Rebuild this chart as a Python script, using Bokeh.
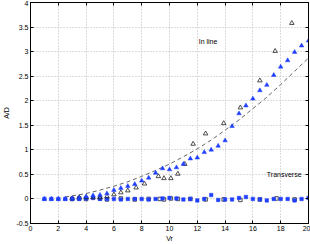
from bokeh.plotting import figure
from bokeh.models import LinearAxis, FixedTicker, Range1d
from bokeh.core.properties import value
from bokeh.embed import file_html
from bokeh.resources import INLINE

# ---- data ----
x_inline_blue = [1, 1.5, 2, 2.5, 3, 3.5, 4, 4.5, 5, 5.5, 6, 6.5, 7, 7.5, 8, 8.5, 9, 9.5, 10, 10.5,
                 11, 11.5, 12, 12.5, 13, 13.5, 14, 14.5, 15, 15.5, 16, 16.5, 17, 17.5, 18, 18.5, 19, 19.5, 20]
y_inline_blue = [0, 0, 0, 0, 0.01, 0.02, 0.05, 0.07, 0.08, 0.11, 0.18, 0.22, 0.26, 0.30, 0.37, 0.43, 0.53, 0.62,
                 0.60, 0.64, 0.71, 0.82, 0.84, 0.95, 1.0, 1.08, 1.19, 1.48, 1.74, 1.90, 2.04, 2.21, 2.32, 2.52,
                 2.69, 2.82, 2.99, 3.12, 3.22]

x_inline_open = [3, 3.5, 4, 4.5, 5, 5.5, 6, 6.5, 7, 7.6, 8.2, 9.2, 9.6, 10.1, 10.6, 11.1, 11.7, 12.6, 13.9,
                 15.1, 16.5, 17.6, 18.8]
y_inline_open = [0.01, 0.03, 0.03, 0.03, 0.03, 0.05, 0.09, 0.13, 0.17, 0.23, 0.31, 0.46, 0.42, 0.42, 0.51,
                 0.71, 1.12, 1.33, 1.54, 1.86, 2.41, 3.01, 3.58]

x_trans_open = [3, 3.5, 4, 5, 5.5, 6.5, 7.5, 8.5, 9.3, 9.6, 10.1, 10.6, 11.5, 12.6, 13.9, 15.1, 16.5, 17.7, 19]
y_trans_open = [0, 0.01, 0, 0.01, -0.01, 0.01, -0.01, 0, 0, -0.01, 0.01, 0, 0, -0.01, -0.01, -0.02, -0.01,
                0.01, -0.01]

x_trans_blue = x_inline_blue
y_trans_blue = [0, 0, 0, 0, 0, 0, 0.01, 0.02, 0, 0, 0, -0.01, 0, 0, 0, -0.01, 0, 0.01, 0.02, 0.01,
                -0.01, 0, -0.03, 0, 0.08, -0.02, -0.01, -0.01, 0.02, 0.04, 0, -0.01, -0.03, 0, 0, 0,
                -0.03, 0, 0.02]

x_curve = [2.5, 4, 5, 6, 7, 8, 9, 10, 11, 12, 13, 14, 15, 16, 17, 18, 19, 20]
y_curve = [0.04, 0.11, 0.18, 0.26, 0.35, 0.46, 0.58, 0.71, 0.86, 1.02, 1.2, 1.4, 1.61, 1.84, 2.07, 2.33,
           2.6, 2.87]

x_ticks = [0, 2, 4, 6, 8, 10, 12, 14, 16, 18, 20]
y_ticks = [-0.5, 0, 0.5, 1, 1.5, 2, 2.5, 3, 3.5, 4]
y_tick_labels = ["-0.5", "0", "0.5", "1", "1.5", "2", "2.5", "3", "3.5", "4"]

labels_text = ["In line", "Transverse"]
labels_x = [12.1, 17]
labels_y = [3.2, 0.5]

FONT = "Liberation Sans"
BLUE = "#1f3fff"

p = figure(width=310, height=244, output_backend="svg", toolbar_location=None,
           x_range=Range1d(0, 20), y_range=Range1d(-0.5, 4))
p.min_border_left = 1
p.min_border_right = 2
p.min_border_top = 2
p.min_border_bottom = 0
p.outline_line_color = "black"
p.outline_line_width = 1
p.background_fill_color = "white"
p.border_fill_color = "white"

for ax in (p.xaxis[0], p.yaxis[0]):
    ax.major_tick_in = 3
    ax.major_tick_out = 0
    ax.minor_tick_in = 0
    ax.minor_tick_out = 0
    ax.major_label_text_font = FONT
    ax.major_label_text_font_size = "7px"
    ax.major_label_text_color = "black"
    ax.axis_label_text_font = FONT
    ax.axis_label_text_font_size = "7px"
    ax.axis_label_text_font_style = "normal"
    ax.axis_label_text_color = "black"
    ax.axis_line_color = "black"
    ax.major_tick_line_color = "black"

p.xaxis[0].ticker = FixedTicker(ticks=x_ticks)
p.yaxis[0].ticker = FixedTicker(ticks=y_ticks)
p.yaxis[0].major_label_overrides = {t: l for t, l in zip(y_ticks, y_tick_labels)}
p.xaxis[0].axis_label = "Vr"
p.yaxis[0].axis_label = "A/D"
p.xaxis[0].major_label_standoff = 2
p.yaxis[0].major_label_standoff = 2
p.xaxis[0].axis_label_standoff = 1
p.yaxis[0].axis_label_standoff = 3

for loc, ticks in (("right", y_ticks), ("above", x_ticks)):
    ax = LinearAxis(ticker=FixedTicker(ticks=ticks), major_label_text_font_size="0px",
                    major_tick_in=3, major_tick_out=0, minor_tick_in=0, minor_tick_out=0,
                    axis_line_color="black", major_tick_line_color="black", major_label_standoff=0)
    p.add_layout(ax, loc)

p.xgrid.ticker = FixedTicker(ticks=x_ticks)
p.ygrid.ticker = FixedTicker(ticks=y_ticks)
for g in (p.xgrid[0], p.ygrid[0]):
    g.grid_line_color = "#b8b8b8"
    g.grid_line_dash = "1 2"
    g.grid_line_width = 1

p.line(x_curve, y_curve, line_color="#666666", line_dash="4 3", line_width=1)

p.scatter(x_trans_open, y_trans_open, marker="square", size=3.5, fill_color=None,
          line_color="#222222", line_width=0.8)
p.scatter(x_trans_blue, y_trans_blue, marker="square", size=3.5, fill_color=BLUE,
          line_color=BLUE, line_width=0.5)
p.scatter(x_inline_open, y_inline_open, marker="triangle", size=4.5, fill_color=None,
          line_color="#222222", line_width=0.8)
p.scatter(x_inline_blue, y_inline_blue, marker="triangle", size=4.5, fill_color=BLUE,
          line_color=BLUE, line_width=0.5)

p.text(labels_x, labels_y, text=labels_text, text_font=value(FONT), text_font_size="7px",
       text_align="left", text_baseline="middle", text_color="black")

open("out.html", "w").write(file_html(p, INLINE))
